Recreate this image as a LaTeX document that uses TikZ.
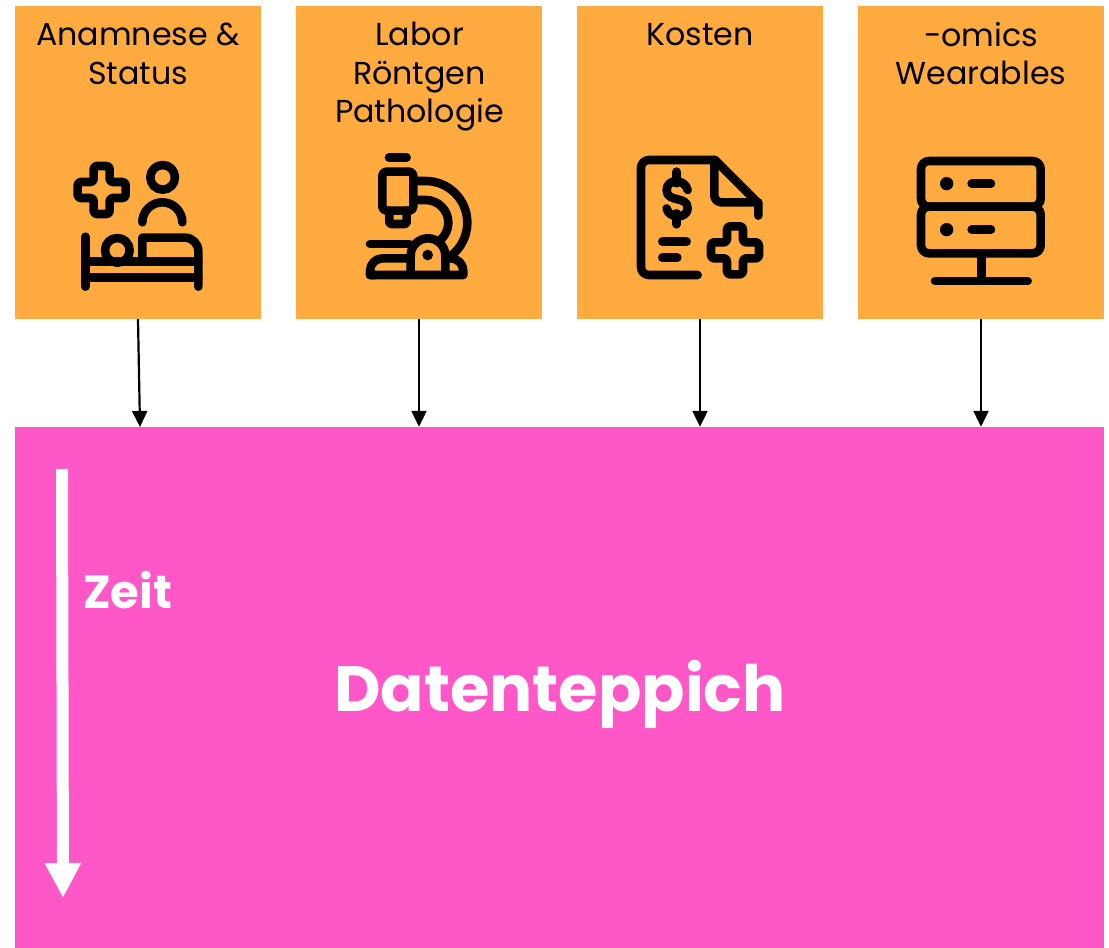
\documentclass[tikz,border=0pt]{standalone}
\usepackage{fontspec}
\setmainfont{Poppins}
\usetikzlibrary{arrows.meta}
\definecolor{kastenorange}{HTML}{FFAB40}
\definecolor{teppichpink}{HTML}{FF57C7}
\tikzset{
kasten/.style={fill=kastenorange,minimum width=246,minimum height=313,inner sep=0},
titel/.style={anchor=north,align=center,inner sep=0,font=\fontsize{31.7}{38.5}\selectfont},
pfeil/.style={line width=2.2pt,-{Triangle[length=16pt,width=15pt]}},
icon/.style={line width=8.6pt,line cap=round,line join=round},
}
\newcommand{\pluszeichen}[2]{\draw[rounded corners=3pt] (#1,#2)++(-24,-72)--++(48,0)--++(0,48)--++(48,0)--++(0,48)--++(-48,0)--++(0,48)--++(-48,0)--++(0,-48)--++(-48,0)--++(0,-48)--++(48,0)--cycle;}
\begin{document}
\begin{tikzpicture}[x=1pt,y=-1pt]
\useasboundingbox (0,0) rectangle (1109,948);
\node[kasten] (anamnese) at (138,162.5) {};
\node[kasten] (labor) at (419,162.5) {};
\node[kasten] (kosten) at (700,162.5) {};
\node[kasten] (omics) at (981,162.5) {};
\node[fill=teppichpink,minimum width=1089,minimum height=521,inner sep=0] (teppich) at (559.5,687.5) {};
\node[titel] (anamnesetext) at (138,23) {Anamnese \&\\Status};
\node[titel] (labortext) at (419.5,22) {Labor\\Röntgen\\Pathologie};
\node[titel] (kostentext) at (700,23) {Kosten};
\node[titel] (omicstext) at (981,22) {-omics\\Wearables};
\node[white,font=\bfseries\fontsize{46.5}{46.5}\selectfont] (zeit) at (127.5,590.5) {Zeit};
\node[white,font=\bfseries\fontsize{64}{64}\selectfont] (datenteppich) at (560,694) {Datenteppich};
\coordinate (ziel1) at (140,427);
\draw[pfeil] (anamnese.south)--(ziel1);
\draw[pfeil] (labor.south)--(labor.south|-teppich.north);
\draw[pfeil] (kosten.south)--(kosten.south|-teppich.north);
\draw[pfeil] (omics.south)--(omics.south|-teppich.north);
\coordinate (zeitstart) at (62,469);
\coordinate (zeitende) at (63,898);
\draw[white,line width=12pt,-{Triangle[length=35pt,width=34pt]}] (zeitstart)--(zeitende);
% Patient
\begin{scope}[icon,shift={(60,145)},x=0.3333pt,y=-0.3333pt]
\pluszeichen{125}{135}
\draw (308,97) circle (37);
\draw (247,232) arc (180:360:60);
\draw (172,316) circle (37);
\draw (76,275)--(76,425) (76,350)--(415,350) (76,398)--(415,398);
\draw (247,350)--(247,278)--(375,278) arc (270:360:40)--(415,425);
\end{scope}
% Mikroskop
\begin{scope}[icon,shift={(350,145)},x=0.3333pt,y=-0.3333pt]
\draw (117,38)--(170,38);
\draw[rounded corners=4pt] (97,80) rectangle (190,197);
\draw[rounded corners=2pt] (118,197)--(118,237)--(170,237)--(170,197);
\draw (190,108)--(227,108) arc (270:410:125);
\draw (190,165)--(227,165) arc (270:405:68);
\draw (60,297)--(178,297);
\draw (182,390)--(182,332) arc (180:360:52)--(286,390);
\fill (233,330) circle (16);
\draw (75,390)--(60,390)--(60,378) arc (180:270:38)--(182,340);
\draw (60,390)--(340,390)--(340,378) arc (360:270:38)--(286,340);
\end{scope}
% Rechnung
\begin{scope}[icon,shift={(625,145)},x=0.3333pt,y=-0.3333pt]
\draw[rounded corners=8pt] (218,390)--(48,390)--(48,45)--(270,45);
\draw (270,45)--(400,175)--(400,212);
\draw[rounded corners=7pt] (268,45)--(268,172)--(400,172);
\draw (155,80)--(155,115) (155,205)--(155,238);
\draw (188,135) .. controls (180,100) and (125,100) .. (125,135) .. controls (125,175) and (188,150) .. (188,190) .. controls (188,222) and (130,222) .. (125,190);
\draw (112,290)--(185,290) (112,338)--(157,338);
\pluszeichen{330}{316}
\end{scope}
% Server
\begin{scope}[icon,shift={(905,145)},x=0.3333pt,y=-0.3333pt]
\draw[rounded corners=8pt] (48,48) rectangle (407,185);
\draw[rounded corners=8pt] (48,185) rectangle (407,325);
\fill (125,116) circle (20) (125,254) circle (20);
\draw (200,116)--(258,116) (200,254)--(258,254);
\draw (229,325)--(229,408) (90,408)--(368,408);
\end{scope}
\end{tikzpicture}
\end{document}
